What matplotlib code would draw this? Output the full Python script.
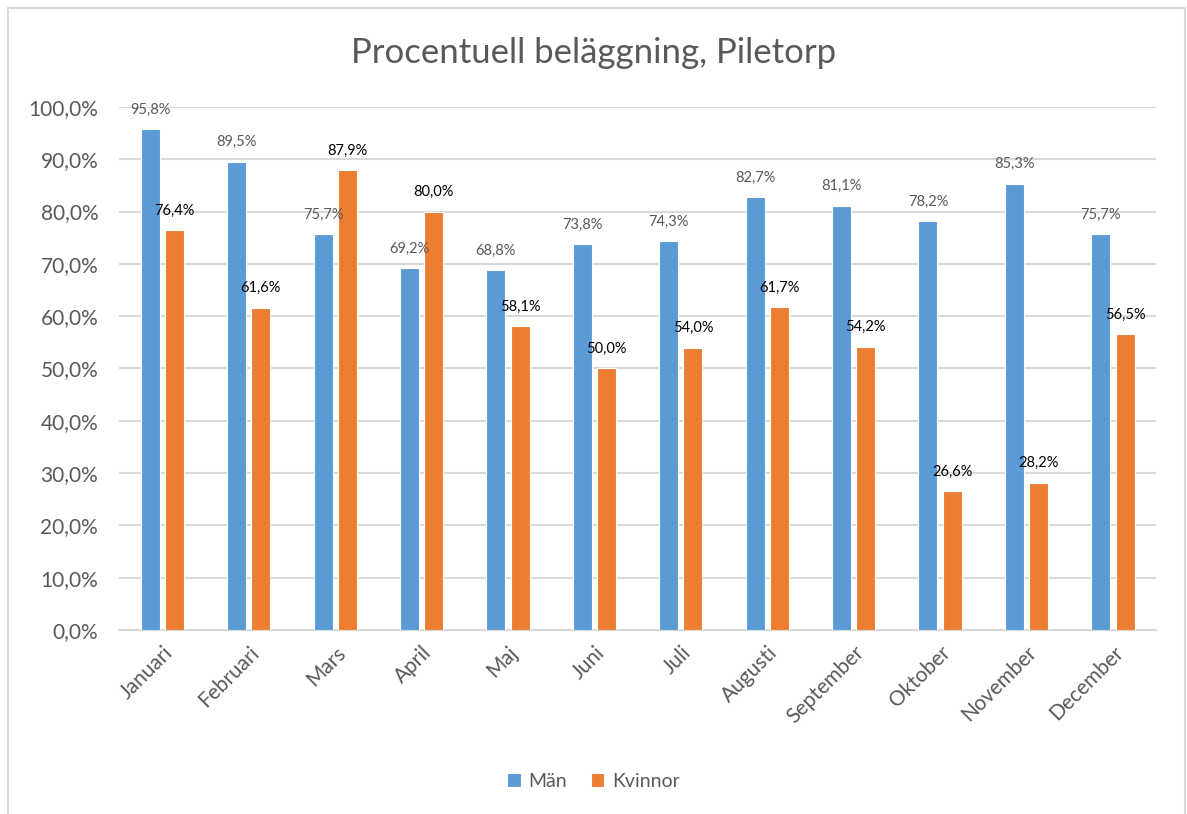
import matplotlib.pyplot as plt
import matplotlib.patches as mpatches
import numpy as np

# Data
months = ['Januari', 'Februari', 'Mars', 'April', 'Maj', 'Juni', 'Juli',
          'Augusti', 'September', 'Oktober', 'November', 'December']
man = [95.8, 89.5, 75.7, 69.2, 68.8, 73.8, 74.3, 82.7, 81.1, 78.2, 85.3, 75.7]
kvinnor = [76.4, 61.6, 87.9, 80.0, 58.1, 50.0, 54.0, 61.7, 54.2, 26.6, 28.2, 56.5]
yticks = [0, 10, 20, 30, 40, 50, 60, 70, 80, 90, 100]

blue = '#5B9BD5'
orange = '#ED7D31'
grey_text = '#595959'
grid_col = '#D9D9D9'

plt.rcParams['font.family'] = ['Lato', 'DejaVu Sans']

fig = plt.figure(figsize=(11.87, 8.14), dpi=100)
ax = fig.add_axes([0.1003, 0.226, 0.8737, 0.6426])

x = np.arange(len(months))
w = 0.22
gap = 0.03
b1 = ax.bar(x - w / 2 - gap, man, w, color=blue, edgecolor='white', linewidth=0.8,
            label='Män', zorder=3)
b2 = ax.bar(x + w / 2 + gap, kvinnor, w, color=orange, edgecolor='white', linewidth=0.8,
            label='Kvinnor', zorder=3)

def fmt(v):
    return f'{v:.1f}%'.replace('.', ',')

for rect, v in zip(b1, man):
    ax.annotate(fmt(v), (rect.get_x() + rect.get_width() / 2, v), xytext=(0, 9),
                textcoords='offset points', ha='center', va='bottom',
                fontsize=10.5, color=grey_text)
for rect, v in zip(b2, kvinnor):
    ax.annotate(fmt(v), (rect.get_x() + rect.get_width() / 2, v), xytext=(0, 9),
                textcoords='offset points', ha='center', va='bottom',
                fontsize=10.5, color='black')

ax.set_xlim(-0.5, len(months) - 0.5)
ax.set_ylim(0, 100)
ax.set_yticks(yticks)
ax.set_yticklabels([fmt(t) for t in yticks], fontsize=15, color=grey_text)
ax.set_xticks(x)
ax.set_xticklabels(months, rotation=45, ha='right', rotation_mode='anchor',
                   fontsize=15, color=grey_text)
ax.tick_params(axis='y', length=0, pad=15)
ax.tick_params(axis='x', length=0, pad=9)
ax.grid(axis='y', color=grid_col, linewidth=1.5, zorder=0)
for s in ['top', 'right', 'left']:
    ax.spines[s].set_visible(False)
ax.spines['bottom'].set_color(grid_col)
ax.spines['bottom'].set_linewidth(1.5)

fig.text(0.5, 0.935, 'Procentuell beläggning, Piletorp', ha='center', va='center',
         fontsize=25, color=grey_text)

fig.legend(handles=[b1, b2], labels=['Män', 'Kvinnor'], loc='center',
           bbox_to_anchor=(0.5, 0.04), ncol=2, frameon=False, fontsize=14,
           handlelength=0.7, handleheight=0.7, handletextpad=0.4, columnspacing=1.2,
           labelcolor=grey_text)

# chart border
fig.patches.append(mpatches.Rectangle((8 / 1187, -0.05), 1177 / 1187, 1 - 8 / 814 + 0.05,
                                      transform=fig.transFigure, fill=False,
                                      edgecolor=grid_col, linewidth=1.5))

fig.savefig('out.png', dpi=100)
